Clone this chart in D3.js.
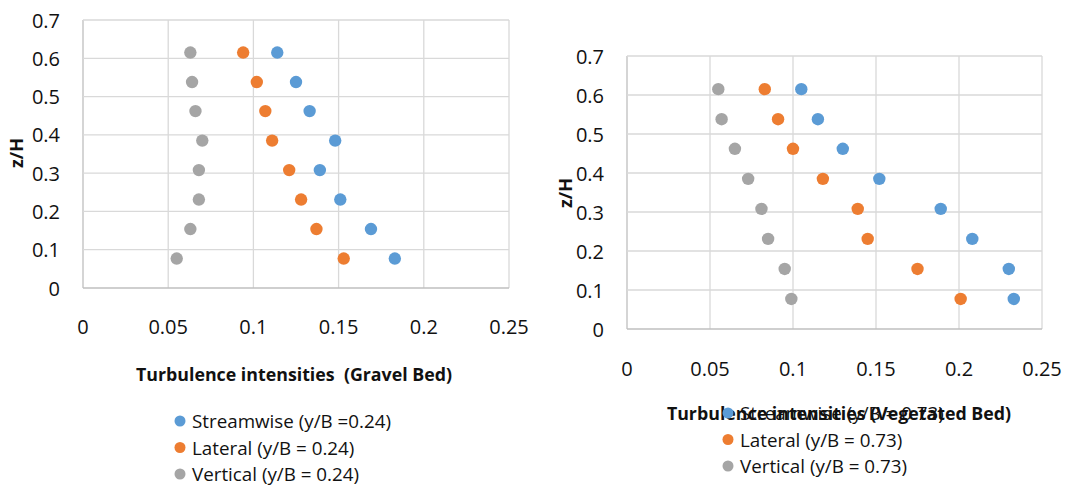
<!DOCTYPE html>
<html>
<head>
<meta charset="utf-8">
<script src="https://cdn.jsdelivr.net/npm/d3@7"></script>
<style>
  body { margin: 0; background: #fff; }
  svg { display: block; font-family: "Open Sans", "Liberation Sans", sans-serif; }
</style>
</head>
<body>
<div id="chart"></div>
<script>
// Data (bottom -> top)
const zLevels = [0.077, 0.154, 0.231, 0.308, 0.385, 0.462, 0.538, 0.615];

const gravelStream   = [0.183, 0.169, 0.151, 0.139, 0.148, 0.133, 0.125, 0.114];
const gravelLateral  = [0.153, 0.137, 0.128, 0.121, 0.111, 0.107, 0.102, 0.094];
const gravelVertical = [0.055, 0.063, 0.068, 0.068, 0.070, 0.066, 0.064, 0.063];

const vegStream   = [0.233, 0.230, 0.208, 0.189, 0.152, 0.130, 0.115, 0.105];
const vegLateral  = [0.201, 0.175, 0.145, 0.139, 0.118, 0.100, 0.091, 0.083];
const vegVertical = [0.099, 0.095, 0.085, 0.081, 0.073, 0.065, 0.057, 0.055];

const xTicks = [0, 0.05, 0.1, 0.15, 0.2, 0.25];
const yTicks = [0, 0.1, 0.2, 0.3, 0.4, 0.5, 0.6, 0.7];

const gravelNames = ["Streamwise (y/B =0.24)", "Lateral (y/B = 0.24)", "Vertical (y/B = 0.24)"];
const vegNames = ["Streamwise (y/B = 0.73)", "Lateral (y/B = 0.73)", "Vertical (y/B = 0.73)"];
const colors = ["#5B9BD5", "#ED7D31", "#A5A5A5"];

const svg = d3.select("#chart")
    .append("svg")
    .attr("width", 1072)
    .attr("height", 486);

function drawPanel(opts) {
    const x = d3.scaleLinear().domain([0, 0.25]).range([opts.left, opts.right]);
    const y = d3.scaleLinear().domain([0, 0.7]).range([opts.bottom, opts.top]);
    const g = svg.append("g");

    // gridlines
    g.selectAll(".vgrid")
        .data(xTicks)
        .enter()
        .append("line")
        .attr("x1", d => x(d)).attr("x2", d => x(d))
        .attr("y1", opts.top).attr("y2", opts.bottom)
        .attr("stroke", d => d === 0 ? "#bfbfbf" : "#d9d9d9")
        .attr("stroke-width", 1.3);
    g.selectAll(".hgrid")
        .data(yTicks)
        .enter()
        .append("line")
        .attr("x1", opts.left).attr("x2", opts.right)
        .attr("y1", d => y(d)).attr("y2", d => y(d))
        .attr("stroke", d => d === 0 ? "#bfbfbf" : "#d9d9d9")
        .attr("stroke-width", 1.3);

    // tick labels
    g.selectAll(".xlab")
        .data(xTicks)
        .enter()
        .append("text")
        .attr("x", d => x(d))
        .attr("y", opts.xLabelY)
        .attr("text-anchor", "middle")
        .attr("dominant-baseline", "central")
        .style("font-size", "20px")
        .attr("fill", "#111")
        .text(d => d3.format("~g")(d));
    g.selectAll(".ylab")
        .data(yTicks)
        .enter()
        .append("text")
        .attr("x", opts.left - 23)
        .attr("y", d => y(d))
        .attr("text-anchor", "end")
        .attr("dominant-baseline", "central")
        .style("font-size", "20px")
        .attr("fill", "#111")
        .text(d => d3.format("~g")(d));

    // y axis title
    g.append("text")
        .attr("transform", `translate(${opts.yTitleX}, ${opts.yTitleY}) rotate(-90)`)
        .attr("text-anchor", "middle")
        .attr("dominant-baseline", "central")
        .style("font-size", "18px")
        .style("font-weight", "bold")
        .attr("fill", "#111")
        .text("z/H");

    // x axis title
    g.append("text")
        .attr("x", opts.titleX)
        .attr("y", opts.titleY)
        .attr("text-anchor", "middle")
        .attr("dominant-baseline", "central")
        .style("font-size", "17.8px")
        .style("font-weight", "bold")
        .style("white-space", "pre")
        .attr("fill", "#111")
        .text(opts.title);

    // points
    opts.series.forEach((vals, i) => {
        g.selectAll(".pt" + i)
            .data(vals)
            .enter()
            .append("circle")
            .attr("cx", d => x(d))
            .attr("cy", (d, j) => y(zLevels[j]))
            .attr("r", 6.2)
            .attr("fill", colors[i]);
    });

    // legend
    const legend = g.append("g")
        .attr("transform", `translate(${opts.legendX}, ${opts.legendY})`);
    opts.names.forEach((name, i) => {
        legend.append("circle")
            .attr("cx", 0)
            .attr("cy", i * 26.5)
            .attr("r", 5.5)
            .attr("fill", colors[i]);
        legend.append("text")
            .attr("x", 12)
            .attr("y", i * 26.5)
            .attr("dominant-baseline", "central")
            .style("font-size", "18.8px")
            .attr("fill", "#111")
            .text(name);
    });
}

drawPanel({
    left: 83, right: 509, top: 20, bottom: 288,
    xLabelY: 326, yTitleX: 16, yTitleY: 153,
    title: "Turbulence intensities  (Gravel Bed)", titleX: 294, titleY: 374,
    series: [gravelStream, gravelLateral, gravelVertical],
    names: gravelNames, legendX: 180, legendY: 421
});

drawPanel({
    left: 627, right: 1042, top: 56, bottom: 329,
    xLabelY: 368, yTitleX: 565, yTitleY: 193,
    title: "Turbulence intensities (Vegetated Bed)", titleX: 839, titleY: 413,
    series: [vegStream, vegLateral, vegVertical],
    names: vegNames, legendX: 728, legendY: 413
});
</script>
</body>
</html>
